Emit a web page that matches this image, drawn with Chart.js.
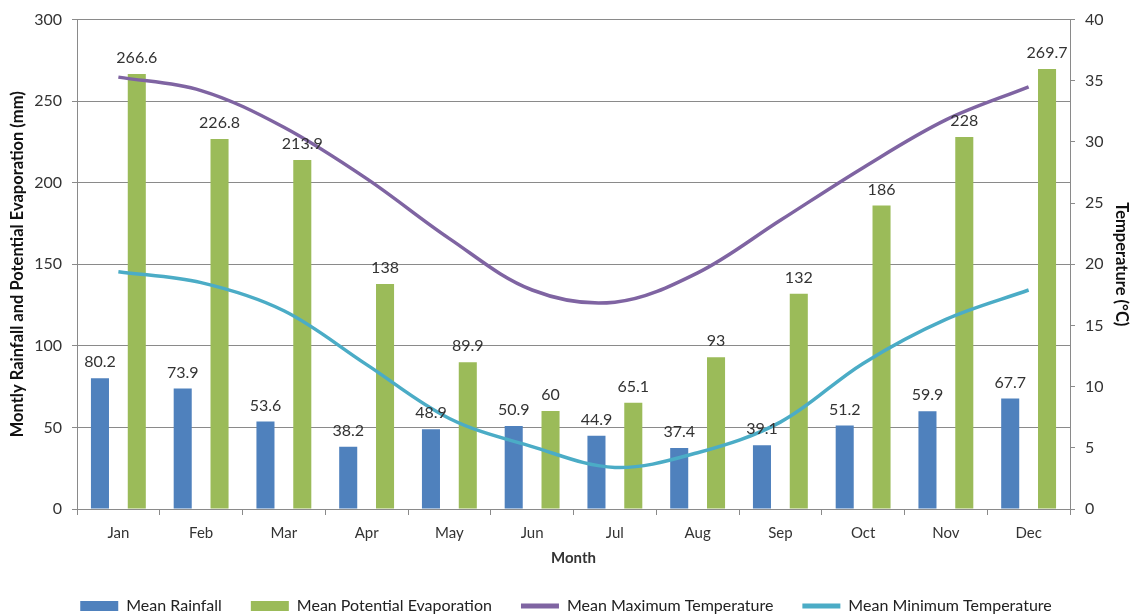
<!DOCTYPE html>
<html>
<head>
<meta charset="utf-8">
<script src="https://cdn.jsdelivr.net/npm/chart.js@4"></script>
<style>
    html, body { margin: 0; padding: 0; background: #fff; }
    #contenedor { width: 1132px; height: 616px; }
</style>
</head>
<body>
<div id="contenedor"><canvas id="graficaClima"></canvas></div>
<script>
// Datos mensuales
var meses = ["Jan", "Feb", "Mar", "Apr", "May", "Jun", "Jul", "Aug", "Sep", "Oct", "Nov", "Dec"];
var lluvia = [80.2, 73.9, 53.6, 38.2, 48.9, 50.9, 44.9, 37.4, 39.1, 51.2, 59.9, 67.7];
var evaporacion = [266.6, 226.8, 213.9, 138, 89.9, 60, 65.1, 93, 132, 186, 228, 269.7];
var tempMax = [35.3, 34.2, 31.2, 27.0, 22.1, 17.9, 16.9, 19.3, 23.6, 27.9, 31.8, 34.5];
var tempMin = [19.4, 18.5, 16.2, 11.8, 7.4, 5.1, 3.4, 4.6, 7.1, 11.9, 15.5, 17.9];

var fuente = "Lato, 'Open Sans', sans-serif";
var gris = '#8a8a8a';

// Etiquetas de valor encima de cada barra
var etiquetasBarras = {
    id: 'etiquetasBarras',
    afterDatasetsDraw: function (chart) {
        var ctx = chart.ctx;
        ctx.save();
        ctx.font = '16px ' + fuente;
        ctx.fillStyle = '#333333';
        ctx.textAlign = 'center';
        ctx.textBaseline = 'bottom';
        chart.data.datasets.forEach(function (ds, i) {
            if (ds.type !== 'bar') return;
            chart.getDatasetMeta(i).data.forEach(function (barra, j) {
                ctx.fillText(String(ds.data[j]), barra.x, barra.y - 8);
            });
        });
        ctx.restore();
    }
};

var datos = {
    labels: meses,
    datasets: [{
        type: 'bar',
        label: 'Mean Rainfall',
        data: lluvia,
        backgroundColor: '#4f81bd',
        yAxisID: 'y',
        order: 2
    }, {
        type: 'bar',
        label: 'Mean Potential Evaporation',
        data: evaporacion,
        backgroundColor: '#9bbb59',
        yAxisID: 'y',
        order: 2
    }, {
        type: 'line',
        label: 'Mean Maximum Temperature',
        data: tempMax,
        borderColor: '#7f64a2',
        backgroundColor: '#7f64a2',
        borderWidth: 3.5,
        pointRadius: 0,
        tension: 0.35,
        yAxisID: 'y1',
        order: 1
    }, {
        type: 'line',
        label: 'Mean Minimum Temperature',
        data: tempMin,
        borderColor: '#4bacc6',
        backgroundColor: '#4bacc6',
        borderWidth: 3.5,
        pointRadius: 0,
        tension: 0.35,
        yAxisID: 'y1',
        order: 1
    }]
};

var opciones = {
    responsive: true,
    maintainAspectRatio: false,
    animation: false,
    layout: { padding: { top: 12, bottom: -8 } },
    datasets: {
        bar: { categoryPercentage: 0.89, barPercentage: 0.49 }
    },
    plugins: {
        tooltip: { enabled: false },
        legend: {
            position: 'bottom',
            labels: {
                color: '#222',
                font: { family: fuente, size: 16 },
                usePointStyle: true,
                pointStyleWidth: 38,
                boxHeight: 10,
                padding: 29,
                sort: function (a, b) { return a.datasetIndex - b.datasetIndex; },
                generateLabels: function (chart) {
                    var items = Chart.defaults.plugins.legend.labels.generateLabels(chart);
                    items.forEach(function (item) {
                        var ds = chart.data.datasets[item.datasetIndex];
                        if (ds.type === 'line') {
                            item.pointStyle = 'line';
                            item.strokeStyle = ds.borderColor;
                            item.lineWidth = 5;
                        } else {
                            item.pointStyle = 'rect';
                            item.lineWidth = 0;
                        }
                    });
                    return items;
                }
            }
        }
    },
    scales: {
        x: {
            grid: { offset: true, drawOnChartArea: false, color: gris, tickLength: 6 },
            border: { color: gris },
            ticks: { color: '#333', font: { family: fuente, size: 15 }, padding: 9 },
            title: { display: true, text: 'Month', color: '#333', font: { family: fuente, size: 15, weight: 'bold' }, padding: { top: 2, bottom: 2 } },
            afterFit: function (scale) { scale.height = 60; }
        },
        y: {
            position: 'left',
            min: 0,
            max: 300,
            ticks: { stepSize: 50, color: '#333', font: { family: fuente, size: 16 }, padding: 10 },
            grid: { color: gris, tickLength: 5 },
            border: { color: gris },
            title: { display: true, text: 'Montly Rainfall and Potential Evaporation (mm)', color: '#111', font: { family: fuente, size: 16.5, weight: 'bold' }, padding: { top: 8, bottom: 4 } },
            afterFit: function (scale) { scale.width = 77; }
        },
        y1: {
            position: 'right',
            min: 0,
            max: 40,
            ticks: { stepSize: 5, color: '#333', font: { family: fuente, size: 16 }, padding: 10 },
            grid: { drawOnChartArea: false, color: gris, tickLength: 5 },
            border: { color: gris },
            title: { display: true, text: 'Temperature (°C)', color: '#111', font: { family: fuente, size: 16.5, weight: 'bold' }, padding: { top: 1, bottom: 4 } },
            afterFit: function (scale) { scale.width = 62; }
        }
    }
};

// Crear la gráfica combinada
var ctx = document.getElementById('graficaClima').getContext('2d');
var graficaClima = new Chart(ctx, {
    data: datos,
    options: opciones,
    plugins: [etiquetasBarras]
});
</script>
</body>
</html>
